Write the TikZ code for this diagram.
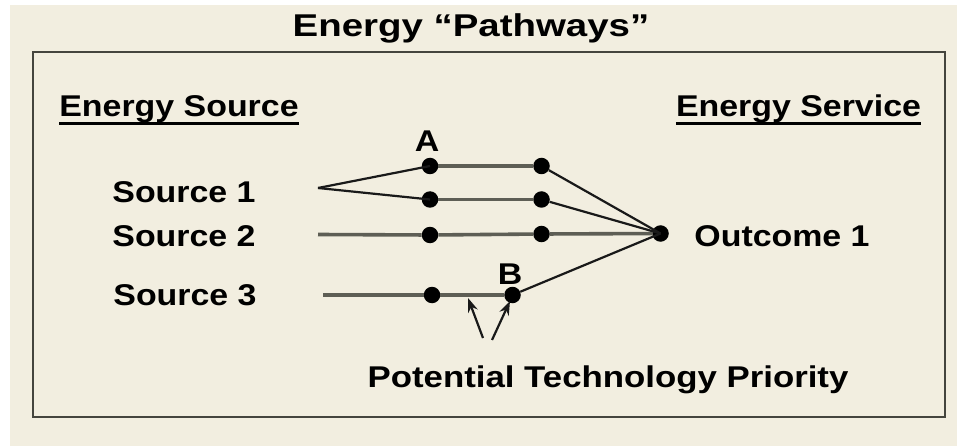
\documentclass[tikz,border=0pt]{standalone}
\usepackage{fontspec}
\setmainfont{Liberation Sans}
\newfontfamily\lab[FakeStretch=1.13]{Liberation Sans}
\newfontfamily\labw[FakeStretch=1.16]{Liberation Sans}
\newfontfamily\ttl[FakeStretch=1.22]{Liberation Sans}
\usetikzlibrary{arrows.meta}
\definecolor{bg}{HTML}{F2EEE0}
\definecolor{frame}{HTML}{45453E}
\definecolor{hline}{HTML}{5E5E55}
\begin{document}
\begin{tikzpicture}[x=1pt,y=-1pt,
  lbl/.style={anchor=base,inner sep=0pt,font=\lab\bfseries\fontsize{30}{32}\selectfont},
  dot/.style={circle,fill=black,inner sep=0pt,minimum size=16.5pt},
  hl/.style={draw=hline,line width=3.6pt},
  dl/.style={draw=black!90,line width=2.2pt},
  arr/.style={draw=black!90,line width=2.2pt,-{Stealth[length=14pt,width=10pt]}}]
\useasboundingbox (0,0) rectangle (957,446);
\fill[white] (0,0) rectangle (957,446);
\fill[bg] (10,5) rectangle (957,446);
\draw[frame,line width=2pt] (33,52) rectangle (945,417);
% texts
\node[anchor=base,inner sep=0pt,font=\ttl\bfseries\fontsize{31.5}{33}\selectfont] (title) at (471,37) {Energy “Pathways”};
\node[lbl] (esrc) at (179,117) {Energy Source};
\node[lbl] (eserv) at (798.5,117) {Energy Service};
\draw[black,line width=3pt] ([yshift=-6.5pt]esrc.base west) -- ([yshift=-6.5pt]esrc.base east);
\draw[black,line width=3pt] ([yshift=-6.5pt]eserv.base west) -- ([yshift=-6.5pt]eserv.base east);
\node[lbl] (src1) at (184,203) {Source 1};
\node[lbl] (src2) at (184,247) {Source 2};
\node[lbl] (src3) at (185,305) {Source 3};
\node[lbl] (out) at (782,246.5) {Outcome 1};
\node[lbl,font=\labw\bfseries\fontsize{30}{32}\selectfont] (ptp) at (608,387) {Potential Technology Priority};
\node[lbl] (la) at (427,152) {A};
\node[lbl] (lb) at (510,284) {B};
% dots
\node[dot] (a1) at (430,166) {};
\node[dot] (a2) at (430,199.5) {};
\node[dot] (a3) at (430,235) {};
\node[dot] (a4) at (432,295) {};
\node[dot] (c1) at (541.5,166) {};
\node[dot] (c2) at (541.5,199.5) {};
\node[dot] (c3) at (541.5,234) {};
\node[dot] (b) at (512.5,295) {};
\node[dot] (o) at (660.5,233.5) {};
\coordinate (s1) at (318,188);
\coordinate (s2) at (318,234.5);
\coordinate (s3) at (323,295);
\coordinate (t1) at (483,338);
\coordinate (t2) at (492,340);
\coordinate (h1) at (468,298);
\coordinate (h2) at (510,301);
% connectors
\draw[dl] (s1) -- (a1.center);
\draw[dl] (s1) -- (a2.center);
\draw[hl] (a1) -- (c1);
\draw[hl] (a2) -- (c2);
\draw[hl] (s2) -- (a3) -- (c3) -- (o);
\draw[hl] (s3) -- (a4) -- (b);
\draw[dl] (c1) -- (o.center);
\draw[dl] (c2) -- (o.center);
\draw[dl] (b) -- (o.center);
\draw[arr] (t1) -- (h1);
\draw[arr] (t2) -- (h2);
\end{tikzpicture}
\end{document}
